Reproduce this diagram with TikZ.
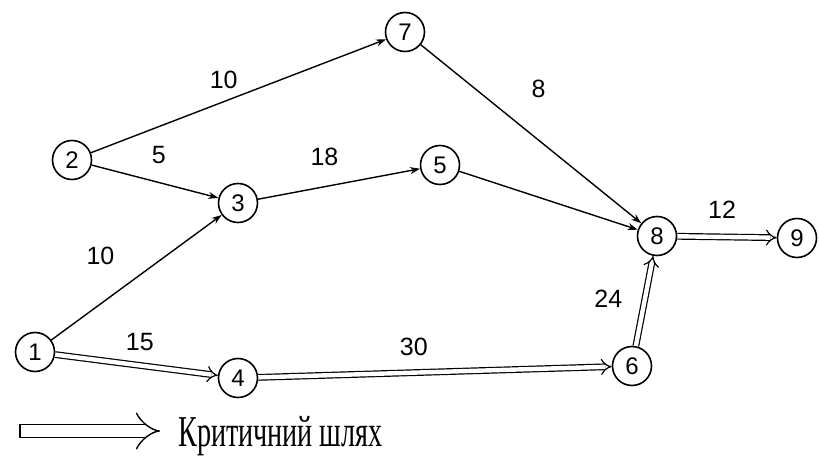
\documentclass[tikz,border=0pt]{standalone}
\usepackage{fontspec}
\setmainfont{Liberation Serif}
\setsansfont{Liberation Sans}
\usetikzlibrary{arrows.meta,positioning}
\begin{document}
\begin{tikzpicture}[x=0.5pt,y=-0.5pt,
  ev/.style={circle,draw,line width=0.8pt,minimum size=19.5pt,inner sep=0pt,font=\sffamily\fontsize{12}{12}\selectfont},
  act/.style={draw,line width=0.7pt,-{Stealth[length=5pt,width=3.5pt]}},
  crit/.style={draw,line width=0.6pt,double,double distance=2.2pt,-{Implies}},
  lbl/.style={font=\sffamily\fontsize{12.5}{12.5}\selectfont,inner sep=1pt}]
\useasboundingbox (0,0) rectangle (819,459);
\node[ev] (n1) at (35,352) {1};
\node[ev] (n2) at (72,160) {2};
\node[ev] (n3) at (238,203) {3};
\node[ev] (n4) at (238,378) {4};
\node[ev] (n5) at (440,165) {5};
\node[ev] (n6) at (632,366) {6};
\node[ev] (n7) at (405,32) {7};
\node[ev] (n8) at (657,236) {8};
\node[ev] (n9) at (797,238) {9};
\path[act] (n2) -- node[lbl,pos=0.45,above=5pt] {10} (n7);
\path[act] (n2) -- node[lbl,pos=0.53,above=8pt] {5} (n3);
\path[act] (n3) -- node[lbl,pos=0.41,above=9pt] {18} (n5);
\path[act] (n7) -- node[lbl,pos=0.4,above right=8pt and 10pt] {8} (n8);
\path[act] (n5) -- (n8);
\path[act] (n1) -- node[lbl,pos=0.55,above left=2pt and 14pt] {10} (n3);
\path[crit] (n1) -- node[lbl,pos=0.52,above=6pt] {15} (n4);
\path[crit] (n4) -- node[lbl,pos=0.44,above=7pt] {30} (n6);
\path[crit] (n6) -- node[lbl,pos=0.52,left=10pt] {24} (n8);
\path[crit] (n8) -- node[lbl,pos=0.45,above=8pt] {12} (n9);
\coordinate (la) at (20,431);
\coordinate (lb) at (160,431);
\draw[line width=0.7pt,double,double distance=6pt,-{Implies}] (la) -- (lb);
\draw[line width=0.7pt] ([yshift=3.35pt]la) -- ([yshift=-3.35pt]la);
\node[anchor=west,inner sep=0pt,font=\fontsize{22}{22}\selectfont,xscale=0.64] (leg) at (178,436) {Критичний шлях};
\end{tikzpicture}
\end{document}
